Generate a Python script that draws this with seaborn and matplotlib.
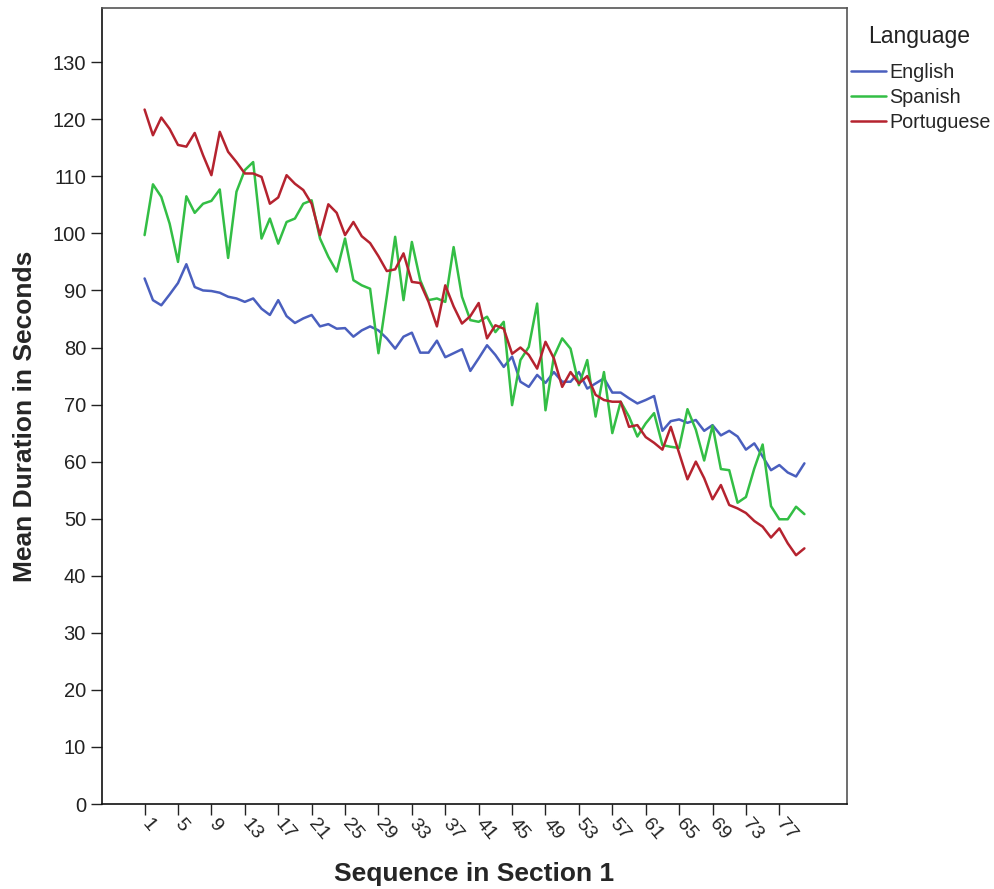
import numpy as np
import pandas as pd
import matplotlib
matplotlib.use("Agg")
import matplotlib.pyplot as plt
import seaborn as sns

# ---- data ----
sequence = list(range(1, 81))
english = [92.1, 88.3, 87.4, 89.3, 91.3, 94.6, 90.6, 90.0, 89.9, 89.6,
           88.9, 88.6, 88.0, 88.6, 86.8, 85.7, 88.3, 85.5, 84.3, 85.1,
           85.7, 83.7, 84.1, 83.3, 83.4, 81.9, 83.0, 83.7, 83.0, 81.6,
           79.8, 81.9, 82.6, 79.1, 79.1, 81.2, 78.3, 79.0, 79.7, 75.9,
           78.1, 80.4, 78.7, 76.6, 78.4, 74.0, 73.1, 75.2, 73.8, 75.7,
           74.0, 74.0, 75.7, 72.8, 73.7, 74.6, 72.1, 72.1, 71.1, 70.2,
           70.8, 71.5, 65.4, 67.1, 67.4, 66.8, 67.3, 65.4, 66.4, 64.6,
           65.4, 64.4, 62.1, 63.2, 60.9, 58.5, 59.4, 58.1, 57.4, 59.7]
spanish = [99.7, 108.6, 106.4, 101.7, 95.0, 106.5, 103.6, 105.2, 105.7, 107.7,
           95.7, 107.3, 111.1, 112.5, 99.1, 102.6, 98.2, 102.0, 102.6, 105.2,
           105.8, 99.1, 95.9, 93.3, 99.1, 91.8, 90.9, 90.3, 79.0, 89.0,
           99.4, 88.3, 98.5, 91.8, 88.3, 88.6, 88.0, 97.6, 88.9, 84.8,
           84.5, 85.4, 82.7, 84.5, 69.9, 77.8, 80.1, 87.7, 69.0, 78.4,
           81.6, 79.8, 73.4, 77.8, 67.9, 75.7, 65.0, 70.5, 67.9, 64.4,
           66.7, 68.5, 62.9, 62.6, 62.4, 69.2, 65.6, 60.2, 66.3, 58.7,
           58.5, 52.8, 53.8, 58.8, 63.0, 52.2, 49.9, 49.9, 52.1, 50.8]
portuguese = [121.7, 117.2, 120.3, 118.3, 115.5, 115.2, 117.6, 113.7, 110.2, 117.8,
              114.3, 112.5, 110.5, 110.5, 109.9, 105.2, 106.3, 110.2, 108.7, 107.6,
              105.2, 99.7, 105.1, 103.6, 99.7, 102.0, 99.5, 98.3, 96.0, 93.4,
              93.7, 96.5, 91.5, 91.3, 88.0, 83.7, 90.9, 87.2, 84.2, 85.5,
              87.8, 81.6, 83.9, 83.3, 78.9, 80.0, 78.7, 76.3, 81.0, 78.1,
              73.1, 75.7, 73.7, 75.0, 71.7, 70.8, 70.5, 70.5, 66.1, 66.4,
              64.3, 63.3, 62.1, 66.1, 61.5, 56.9, 60.0, 57.1, 53.4, 55.9,
              52.4, 51.8, 51.0, 49.6, 48.6, 46.7, 48.3, 45.7, 43.6, 44.8]
languages = ["English", "Spanish", "Portuguese"]
x_tick_labels = list(range(1, 80, 4))
y_ticks = list(range(0, 140, 10))

df = pd.DataFrame({
    "Sequence": sequence * 3,
    "Duration": english + spanish + portuguese,
    "Language": ["English"] * 80 + ["Spanish"] * 80 + ["Portuguese"] * 80,
})

sns.set_style("white")
plt.rcParams["font.family"] = ["Liberation Sans", "DejaVu Sans"]

palette = {"English": "#4A5FBE", "Spanish": "#33BE45", "Portuguese": "#B5232F"}

fig = plt.figure(figsize=(9.94, 8.89), dpi=100)
ax = fig.add_axes([102 / 994, 85 / 889, (847 - 102) / 994, (804 - 8) / 889])

sns.lineplot(data=df, x="Sequence", y="Duration", hue="Language",
             hue_order=languages, palette=palette, linewidth=1.8, ax=ax)

ax.set_xlim(-4.1, 85.1)
ax.set_ylim(0, 139.5)
ax.set_yticks(y_ticks)
ax.set_yticklabels([str(v) for v in y_ticks], fontsize=14.5, color="#222222")
ax.set_xticks(x_tick_labels)
ax.set_xticklabels([str(v) for v in x_tick_labels], rotation=-50, ha="left",
                   va="center", rotation_mode="anchor", fontsize=14, color="#222222")
ax.tick_params(axis="both", direction="out", length=8, width=1.0, color="#222222",
               bottom=True, left=True)
ax.tick_params(axis="x", pad=4)

for side in ["left", "bottom"]:
    ax.spines[side].set_color("#111111")
    ax.spines[side].set_linewidth(1.2)
for side in ["top", "right"]:
    ax.spines[side].set_color("#555555")
    ax.spines[side].set_linewidth(1.2)

ax.set_xlabel("Sequence in Section 1", fontsize=19, fontweight="bold")
ax.xaxis.label.set_verticalalignment("center")
ax.xaxis.set_label_coords(((329 + 619) / 2) / 994, 1 - 874 / 889, transform=fig.transFigure)
ax.set_ylabel("Mean Duration in Seconds", fontsize=19, fontweight="bold")
ax.yaxis.label.set_verticalalignment("center")
ax.yaxis.set_label_coords(25 / 994, 1 - 416 / 889, transform=fig.transFigure)

handles, labels = ax.get_legend_handles_labels()
fig.text(919 / 994, 1 - 36 / 889, "Language", fontsize=16.5, ha="center",
         va="center", color="#222222")
ax.legend(handles, labels, loc="upper left",
          bbox_to_anchor=(851 / 994, 1 - 63 / 889), bbox_transform=fig.transFigure,
          frameon=False, fontsize=14.2, borderpad=0,
          borderaxespad=0, handlelength=1.75, handletextpad=0.2, labelspacing=0.3)

fig.savefig("out.png", dpi=100)
